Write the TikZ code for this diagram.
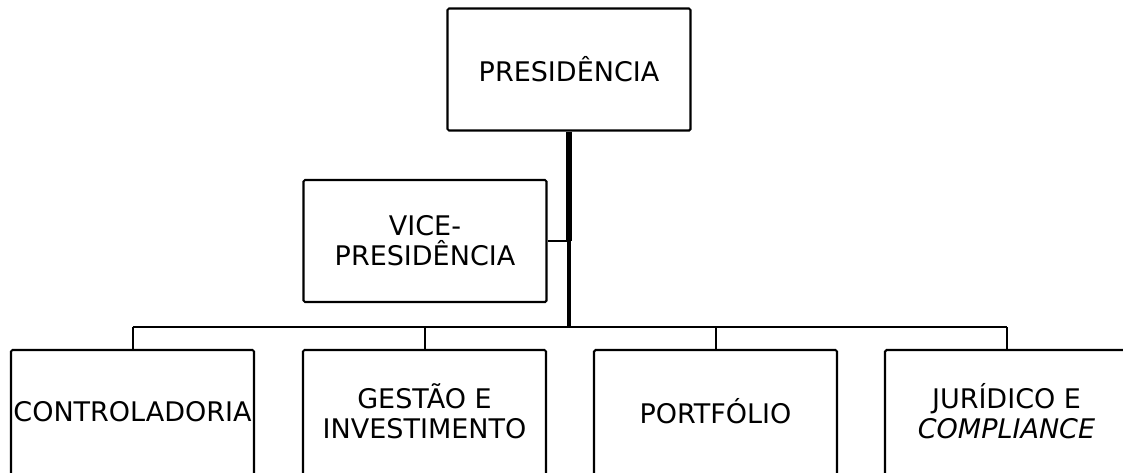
\documentclass[tikz,border=0pt]{standalone}
\usepackage{fontspec}
\setmainfont{DejaVu Sans}
\begin{document}
\begin{tikzpicture}[x=1pt,y=-1pt,
  boxline/.style={draw=black,line width=2.1pt,rounded corners=1.5pt,inner sep=0pt},
  boxtext/.style={align=center,inner sep=0pt,font=\fontsize{27}{30}\selectfont},
  orgbox/.style={boxline,boxtext,minimum width=243pt,minimum height=122pt},
  lowbox/.style={boxline,minimum width=243pt,minimum height=140pt},
  link/.style={line width=2pt,draw=black},
  buslink/.style={line width=2.6pt,draw=black}]
\useasboundingbox (0,0) rectangle (1123,472);
\node[orgbox] (pres) at (569,69.5) {PRESIDÊNCIA};
\node[orgbox] (vp) at (425,241) {VICE-\\PRESIDÊNCIA};
\node[lowbox] (c1) at (132.5,420) {};
\node[boxtext] (t1) at (132.5,411.5) {CONTROLADORIA};
\node[lowbox] (c2) at (424.5,420) {};
\node[boxtext] (t2) at (424.5,411.5) {GESTÃO E\\INVESTIMENTO};
\node[lowbox] (c3) at (715.5,420) {};
\node[boxtext] (t3) at (715.5,411.5) {PORTFÓLIO};
\node[lowbox,minimum width=280pt] (c4) at (1025,420) {};
\node[boxtext] (t4) at (1006.5,411.5) {JURÍDICO E\\\textit{COMPLIANCE}};
\coordinate (bus) at (569,327);
\coordinate (junc) at (569,241);
\draw[line width=6pt] (pres.south) -- (pres.south |- vp.east);
\draw[line width=4pt] (junc) -- (bus);
\draw[link] (vp.east) -- (junc);
\draw[buslink] (t1 |- bus) -- (t4 |- bus);
\draw[link] (t1 |- c1.north) -- (t1 |- bus);
\draw[link] (t2 |- c2.north) -- (t2 |- bus);
\draw[link] (t3 |- c3.north) -- (t3 |- bus);
\draw[link] (t4 |- c4.north) -- (t4 |- bus);
\end{tikzpicture}
\end{document}
